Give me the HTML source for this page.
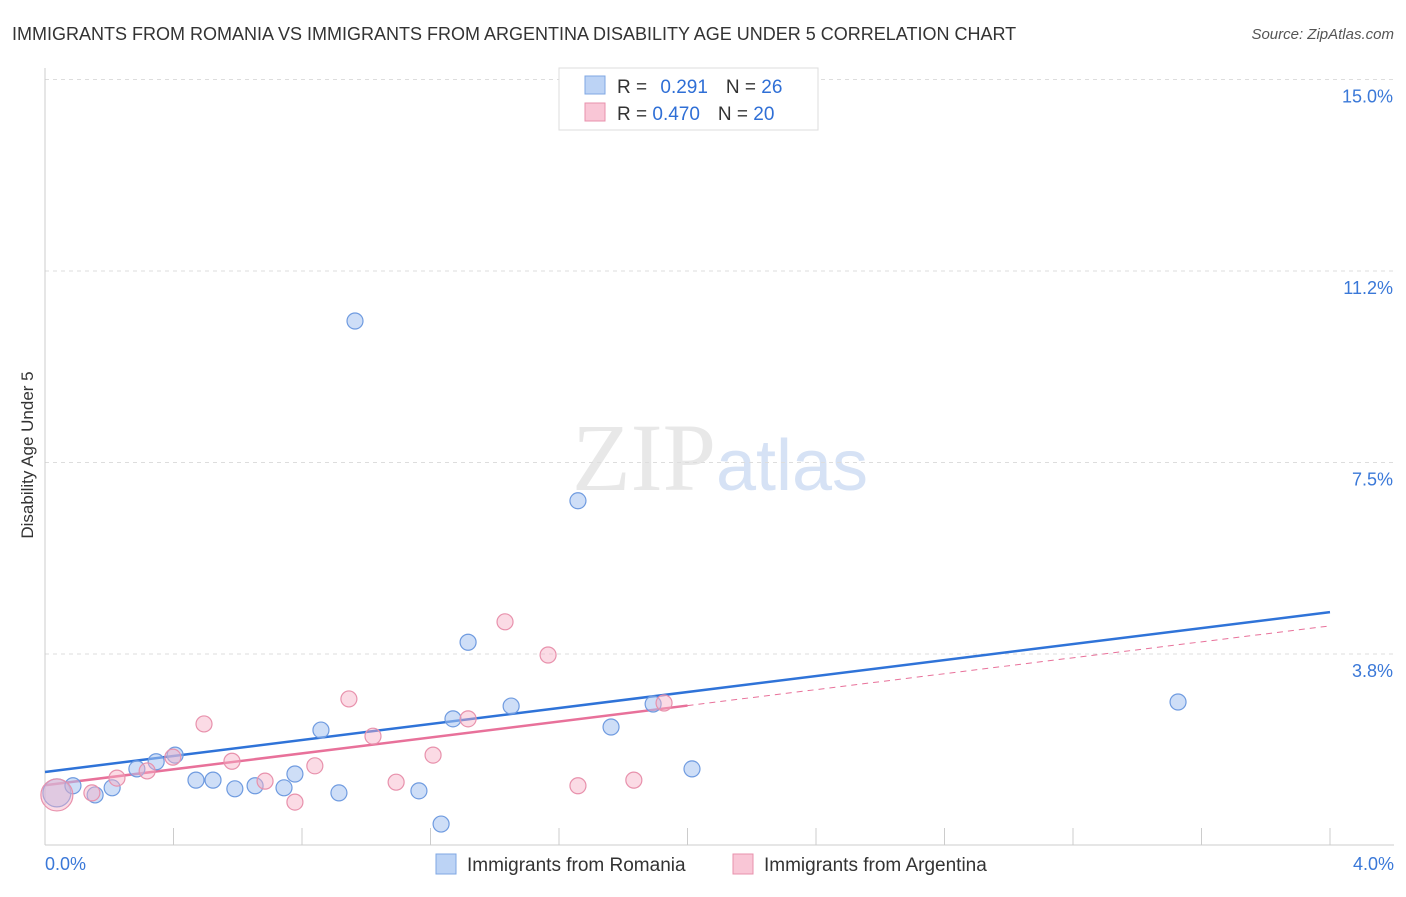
<!DOCTYPE html>
<html><head><meta charset="utf-8"><style>
body{margin:0;background:#fff;font-family:"Liberation Sans",sans-serif;}
</style></head><body>
<svg width="1406" height="892" xmlns="http://www.w3.org/2000/svg" font-family="Liberation Sans, sans-serif">
<text x="12" y="40" font-size="18" fill="#333">IMMIGRANTS FROM ROMANIA VS IMMIGRANTS FROM ARGENTINA DISABILITY AGE UNDER 5 CORRELATION CHART</text>
<text x="1394" y="39" font-size="15" fill="#555" font-style="italic" text-anchor="end">Source: ZipAtlas.com</text>
<text x="720" y="490" font-size="96" text-anchor="middle" fill="#e8e8e8"><tspan font-family="Liberation Serif, serif">ZIP</tspan><tspan fill="#d6e2f5" font-size="72">atlas</tspan></text>
<g id="grid"></g><g id="axes"></g><g id="lines"></g><g id="points"></g>
<text transform="translate(33,455) rotate(-90)" font-size="17" fill="#333" text-anchor="middle">Disability Age Under 5</text>
<g>
<rect x="559" y="68" width="259" height="62" fill="#fff" stroke="#ddd"/>
<rect x="585" y="76" width="20" height="18" fill="#bcd3f5" stroke="#7fa7e3"/>
<text x="617" y="93" font-size="19" fill="#333">R = <tspan fill="#2f6fd6" dx="8">0.291</tspan><tspan dx="18" fill="#333">N = </tspan><tspan fill="#2f6fd6">26</tspan></text>
<rect x="585" y="103" width="20" height="18" fill="#f9c6d6" stroke="#e891ac"/>
<text x="617" y="120" font-size="19" fill="#333">R = <tspan fill="#2f6fd6">0.470</tspan><tspan dx="18" fill="#333">N = </tspan><tspan fill="#2f6fd6">20</tspan></text>
</g>
<g>
<rect x="436" y="854" width="20" height="20" fill="#bcd3f5" stroke="#7fa7e3"/>
<text x="467" y="871" font-size="19" fill="#333">Immigrants from Romania</text>
<rect x="733" y="854" width="20" height="20" fill="#f9c6d6" stroke="#e891ac"/>
<text x="764" y="871" font-size="19" fill="#333">Immigrants from Argentina</text>
</g>
</svg>
<script>
const yTicks=[3.75,7.5,11.25,15.0];
const yTickLabels=["3.8%","7.5%","11.2%","15.0%"];
const xTickLabels=["0.0%","4.0%"];
const romaniaX=[0.037,0.087,0.156,0.209,0.286,0.346,0.405,0.470,0.523,0.591,0.654,0.744,0.778,0.859,0.915,0.965,1.164,1.233,1.317,1.270,1.451,1.659,1.762,1.893,2.014,3.527];
const romaniaY=[1.03,1.17,0.99,1.13,1.50,1.64,1.77,1.28,1.28,1.11,1.17,1.13,1.40,2.26,1.03,10.27,1.07,0.42,3.98,2.48,2.73,6.75,2.32,2.77,1.50,2.81];
const argentinaX=[0.037,0.146,0.224,0.318,0.398,0.495,0.582,0.685,0.778,0.840,0.946,1.021,1.093,1.208,1.317,1.432,1.566,1.659,1.833,1.927];
const argentinaY=[0.99,1.03,1.32,1.46,1.73,2.38,1.65,1.26,0.85,1.56,2.87,2.14,1.24,1.77,2.48,4.38,3.73,1.17,1.28,2.79];
const romaniaTrend=[1.44,4.57];
const argentinaTrend=[1.18,4.30];
const ns="http://www.w3.org/2000/svg";
const X=v=>45+v/4*1285, Y=v=>845.5-v*51.07;
function mk(p,t,a){const e=document.createElementNS(ns,t);for(const k in a)e.setAttribute(k,a[k]);p.appendChild(e);return e;}
const g=document.getElementById('grid'),ax=document.getElementById('axes'),ln=document.getElementById('lines'),pt=document.getElementById('points');
yTicks.forEach((v,i)=>{
 const l=mk(g,'line',{x1:45,x2:1394,y1:Y(v),y2:Y(v),stroke:'#ddd','stroke-dasharray':'4,4'});
 
 
 const t=mk(ax,'text',{x:1393,y:Y(v)+23,'font-size':18,fill:'#3a78d8','text-anchor':'end'});t.textContent=yTickLabels[i];
 
 
});
const a1=mk(ax,'line',{x1:45,x2:45,y1:68,y2:845,stroke:'#ccc'});


const a2=mk(ax,'line',{x1:45,x2:1394,y1:845,y2:845,stroke:'#ccc'});


for(let i=0;i<=10;i++){const t=mk(ax,'line',{x1:X(i*0.4),x2:X(i*0.4),y1:828,y2:845,stroke:'#ccc'});
 
 }
[[0,'start',45],[4,'end',1394]].forEach((d,i)=>{const t=mk(ax,'text',{x:d[2],y:870,'font-size':18,fill:'#3a78d8','text-anchor':d[1]});t.textContent=xTickLabels[i];
 
 });
let l=mk(ln,'line',{x1:X(0),y1:Y(romaniaTrend[0]),x2:X(4),y2:Y(romaniaTrend[1]),stroke:'#2f73d8','stroke-width':2.5});


const ay=v=>argentinaTrend[0]+(argentinaTrend[1]-argentinaTrend[0])*v/4;
l=mk(ln,'line',{x1:X(0),y1:Y(ay(0)),x2:X(2),y2:Y(ay(2)),stroke:'#e8719a','stroke-width':2.5});


l=mk(ln,'line',{x1:X(2),y1:Y(ay(2)),x2:X(4),y2:Y(ay(4)),stroke:'#e8719a','stroke-width':1,'stroke-dasharray':'6,5'});


romaniaX.forEach((x,i)=>{const c=mk(pt,'circle',{cx:X(x),cy:Y(romaniaY[i]),r:i==0?14:8,fill:'rgba(165,195,240,0.55)',stroke:'#6f9be0','stroke-width':1.2});
 
 });
argentinaX.forEach((x,i)=>{const c=mk(pt,'circle',{cx:X(x),cy:Y(argentinaY[i]),r:i==0?16:8,fill:'rgba(246,175,198,0.45)',stroke:'#e891ac','stroke-width':1.2});
 
 });
</script>
</body></html>
